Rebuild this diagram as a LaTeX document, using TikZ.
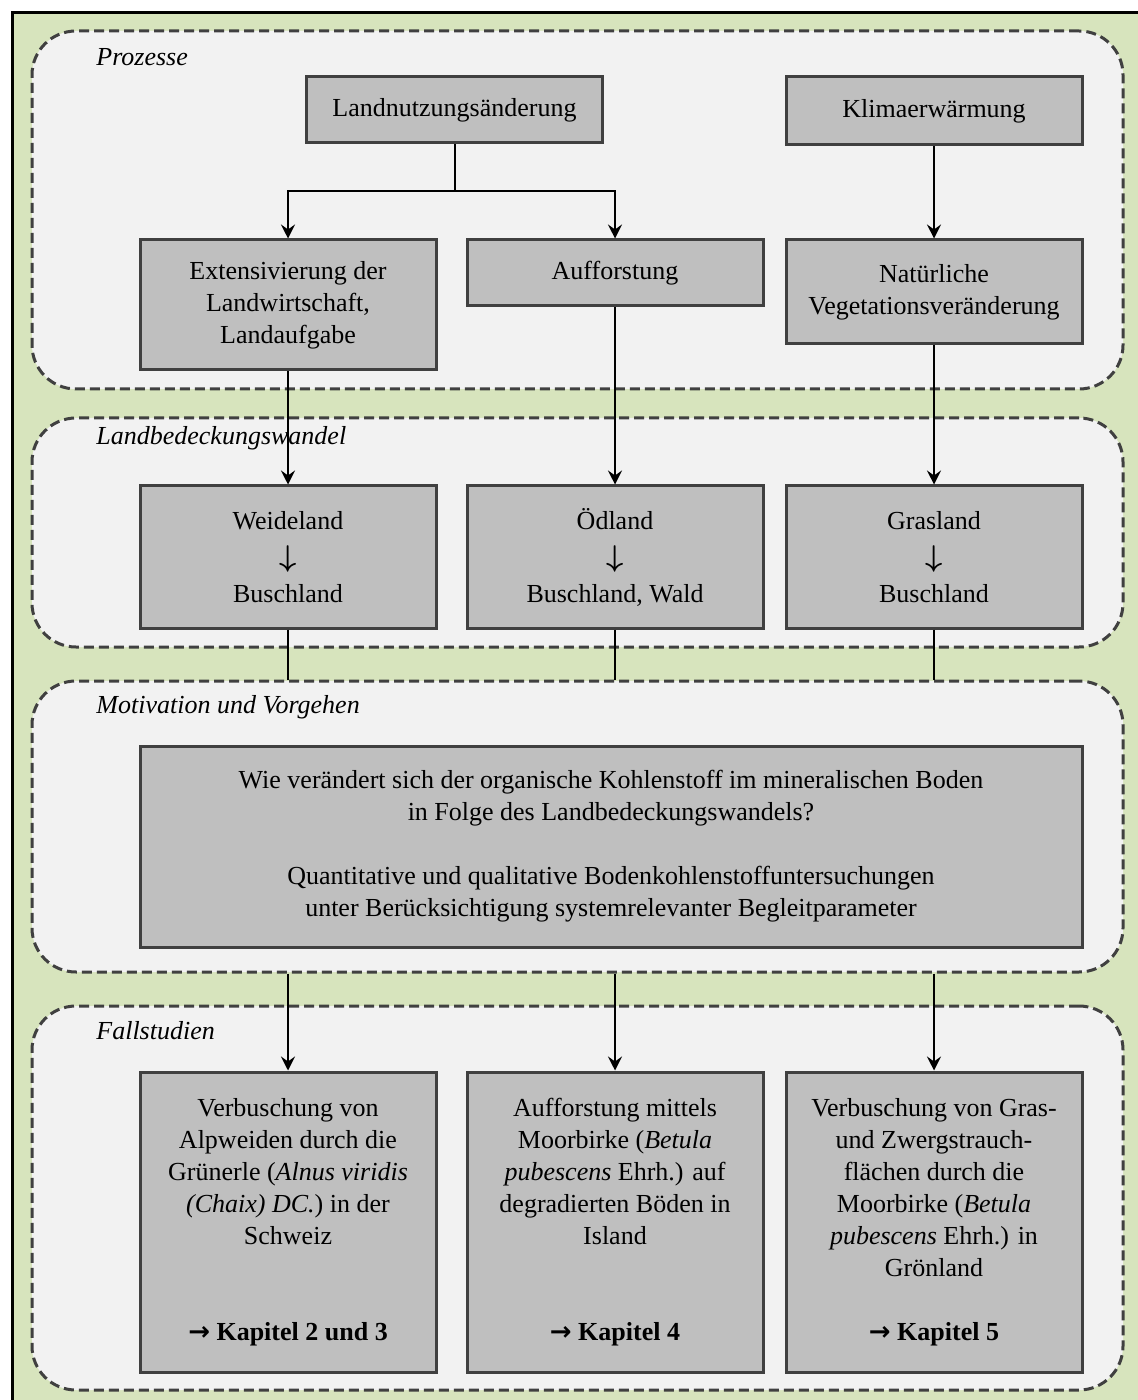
\documentclass[tikz,border=0pt]{standalone}
\usepackage{fontspec}
\usepackage{graphicx}
\setmainfont{Liberation Serif}
\newfontfamily\arrowfont{DejaVu Sans}
\usetikzlibrary{arrows.meta}
\definecolor{bggreen}{HTML}{D7E4BD}
\definecolor{panelgray}{HTML}{F2F2F2}
\definecolor{boxgray}{HTML}{BFBFBF}
\definecolor{edgegray}{HTML}{404040}
\newcommand{\chapref}[1]{\textbf{{\arrowfont →} #1}}
\newcommand{\becomes}{\raisebox{1pt}{\scalebox{1.25}{\boldmath$\downarrow$}}}

\begin{document}
\begin{tikzpicture}[x=0.5pt,y=-0.5pt]
    \tikzstyle{every node}=[font=\fontsize{13pt}{16pt}\selectfont]
    \tikzstyle{panel}=[draw=edgegray,fill=panelgray,line width=1.5pt,dash pattern=on 5pt off 2.5pt,rounded corners=22pt,minimum width=545.5pt,inner sep=0pt]
    \tikzstyle{box}=[draw=edgegray,fill=boxgray,line width=1.5pt,minimum width=148pt,inner sep=0pt,align=center]
    \tikzstyle{title}=[anchor=west,inner sep=0pt,font=\fontsize{13pt}{16pt}\selectfont\itshape]
    \tikzstyle{link}=[line width=1pt]
    \tikzstyle{arrow}=[link,-{Stealth[length=7pt,width=7pt,inset=2.5pt]}]

    \useasboundingbox (0,0) rectangle (1137,1400);
    \draw[fill=bggreen,line width=1.5pt] (12.5,12.5) rectangle (1160,1420);

    % panels
    \node[panel,minimum height=179pt] (prozesse) at (577.5,210) {};
    \node[panel,minimum height=114.5pt] (wandel) at (577.5,532.5) {};
    \node[panel,minimum height=145.5pt] (motivation) at (577.5,826.5) {};
    \node[panel,minimum height=192pt] (fallstudien) at (577.5,1198) {};
    \node[title] (prozesse-t) at (96,57) {Prozesse};
    \node[title] (wandel-t) at (96,438) {Landbedeckungswandel};
    \node[title] (motivation-t) at (96,707) {Motivation und Vorgehen};
    \node[title] (fallstudien-t) at (96,1031) {Fallstudien};

    % Prozesse
    \node[box,minimum height=33pt] (landnutzung) at (454.5,110) {Landnutzungsänderung};
    \node[box,minimum height=34pt] (klima) at (934,111) {Klimaerwärmung};
    \node[box,minimum height=65pt] (extens) at (288,305) {Extensivierung der\\Landwirtschaft,\\Landaufgabe};
    \node[box,minimum height=33pt] (auffor) at (615,273) {Aufforstung};
    \node[box,minimum height=52pt] (natur) at (934,292) {Natürliche\\Vegetationsveränderung};

    % Landbedeckungswandel
    \node[box,minimum height=71pt] (weide) at (288,557) {Weideland\\[3.5pt]\becomes\\[1pt]Buschland};
    \node[box,minimum height=71pt] (oedland) at (615,557) {Ödland\\[3.5pt]\becomes\\[1pt]Buschland, Wald};
    \node[box,minimum height=71pt] (gras) at (934,557) {Grasland\\[3.5pt]\becomes\\[1pt]Buschland};

    % Motivation
    \node[box,minimum width=471pt,minimum height=100.5pt] (frage) at (611,846.5) {Wie verändert sich der organische Kohlenstoff im mineralischen Boden\\in Folge des Landbedeckungswandels?\\[16pt]Quantitative und qualitative Bodenkohlenstoffuntersuchungen\\unter Berücksichtigung systemrelevanter Begleitparameter};

    % Fallstudien
    \node[box,minimum height=150pt] (fall1) at (288,1222) {Verbuschung von\\Alpweiden durch die\\Grünerle (\textit{Alnus viridis}\\\textit{(Chaix) DC.}) in der\\Schweiz\\[32pt]\chapref{Kapitel 2 und 3}};
    \node[box,minimum height=150pt] (fall2) at (615,1222) {Aufforstung mittels\\Moorbirke (\textit{Betula}\\\textit{pubescens} Ehrh.) auf\\degradierten Böden in\\Island\\[32pt]\chapref{Kapitel 4}};
    \node[box,minimum height=150pt] (fall3) at (934,1222) {Verbuschung von Gras-\\und Zwergstrauch-\\flächen durch die\\Moorbirke (\textit{Betula}\\\textit{pubescens} Ehrh.) in\\Grönland\\[16pt]\chapref{Kapitel 5}};

    % connectors
    \coordinate (fork) at (454.5,191);
    \draw[link] (landnutzung) -- (fork);
    \draw[arrow] (fork) -| (extens);
    \draw[arrow] (fork) -| (auffor);
    \draw[arrow] (klima) -- (natur);
    \draw[arrow] (extens) -- (weide);
    \draw[arrow] (auffor) -- (oedland);
    \draw[arrow] (natur) -- (gras);
    \foreach \n in {weide,oedland,gras}
      \draw[link] (\n.south) -- (\n.south |- motivation.north);
    \foreach \n in {fall1,fall2,fall3}
      \draw[arrow] (motivation.south -| \n.north) -- (\n.north);
\end{tikzpicture}
\end{document}
